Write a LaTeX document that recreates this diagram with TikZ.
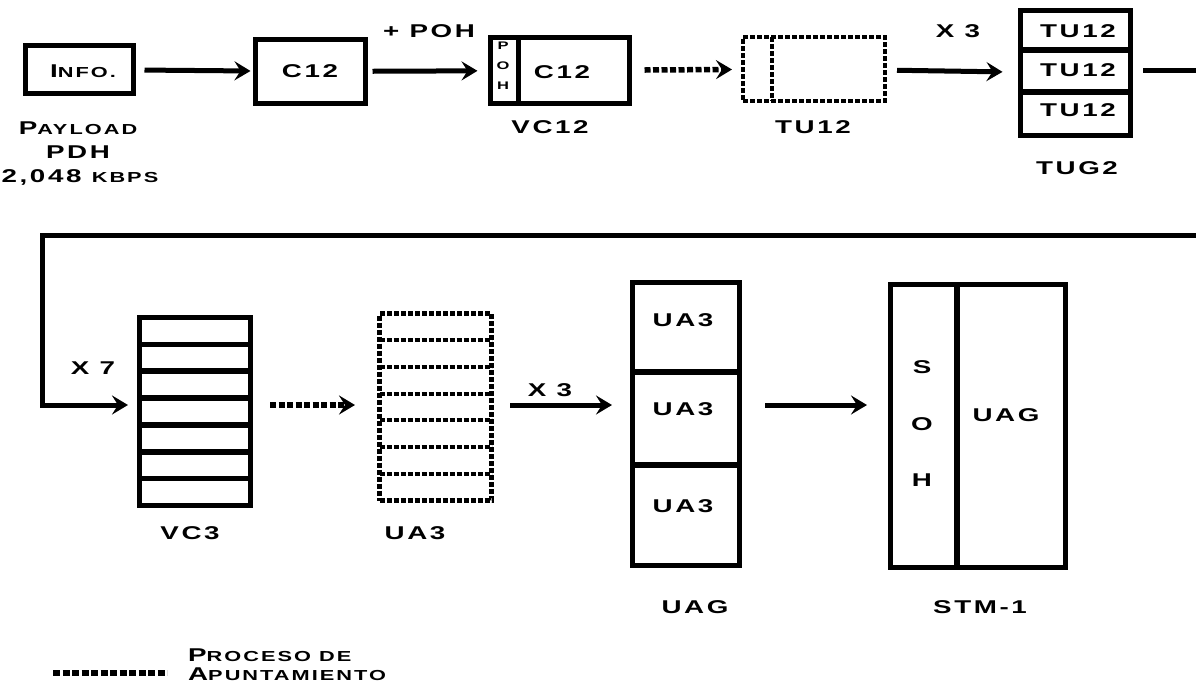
\documentclass[tikz,border=0pt]{standalone}
\usepackage{fontspec}
\setmainfont{Liberation Sans}[FakeStretch=1.5,LetterSpace=14]
\usetikzlibrary{arrows.meta,calc}
\newcommand\capsz{\fontsize{18.5}{21}\selectfont\bfseries}
\newcommand\smc[1]{{\fontsize{14.5}{16}\selectfont #1}}
\newcommand\tinysz{\fontsize{11}{12}\selectfont\bfseries}
\tikzset{
  box/.style={draw, line width=5.5pt, inner sep=0pt, outer sep=0pt},
  dbox/.style={draw, line width=4.5pt, dash pattern=on 5pt off 2pt, inner sep=0pt, outer sep=0pt},
  sep/.style={line width=5.5pt},
  dsep/.style={line width=4pt, dash pattern=on 5pt off 2pt},
  lbl/.style={inner sep=0pt, font=\capsz},
  arr/.style={line width=5pt, -{Stealth[length=16pt,width=19pt,inset=6pt]}},
  darr/.style={line width=5.5pt, dash pattern=on 6pt off 2.5pt, -{Stealth[length=16pt,width=19pt,inset=6pt]}},
  plain/.style={line width=5pt},
}
\begin{document}
\begin{tikzpicture}[x=1pt,y=-1pt]
\useasboundingbox (0,0) rectangle (1196,694);
\fill[white] (0,0) rectangle (1196,694);

% ---- top row boxes
\node[box, minimum width=108pt, minimum height=48pt] (info) at (79.5,69.5) {};
\node[lbl] (infot) at (83,71) {I\smc{NFO.}};
\node[lbl] (pl1) at (78,128) {P\smc{AYLOAD}};
\node[lbl] (pl2) at (78,152) {PDH};
\node[lbl] (pl3) at (80,177) {2,048 \smc{KBPS}};

\node[box, minimum width=110pt, minimum height=64pt] (c12) at (310.5,71.5) {};
\node[lbl] (c12t) at (310,71) {C12};

\node[box, minimum width=139pt, minimum height=66pt] (vc12) at (560,70.5) {};
\draw[sep] ([xshift=28pt]vc12.north west) -- ([xshift=28pt]vc12.south west);
\node[inner sep=0pt, font=\tinysz] (p1) at (503,46) {P};
\node[inner sep=0pt, font=\tinysz] (p2) at (503,66) {O};
\node[inner sep=0pt, font=\tinysz] (p3) at (503,86) {H};
\node[lbl] (vc12c) at (562,72) {C12};
\node[lbl] (vc12l) at (550,127) {VC12};

\node[dbox, minimum width=142pt, minimum height=64pt] (tu12) at (814,69) {};
\draw[dsep] ([xshift=29pt]tu12.north west) -- ([xshift=29pt]tu12.south west);
\node[lbl] (tu12l) at (813,127) {TU12};

\node[box, minimum width=110pt, minimum height=125pt] (tug2) at (1075.5,73) {};
\draw[sep] ($(tug2.north west)!0.316!(tug2.south west)$) -- ($(tug2.north east)!0.316!(tug2.south east)$);
\draw[sep] ($(tug2.north west)!0.652!(tug2.south west)$) -- ($(tug2.north east)!0.652!(tug2.south east)$);
\node[lbl] (tg1) at (1078,31) {TU12};
\node[lbl] (tg2) at (1078,70) {TU12};
\node[lbl] (tg3) at (1078,110) {TU12};
\node[lbl] (tug2l) at (1077,168) {TUG2};

% top connectors
\draw[arr, shorten <=11pt, shorten >=5pt] (info) -- (c12);
\draw[arr, shorten <=7pt, shorten >=13pt] (c12) -- (vc12);
\node[lbl] (poh) at (429,31) {+ POH};
\draw[darr, shorten <=15pt, shorten >=11pt] (vc12) -- (tu12);
\draw[arr, shorten <=12pt, shorten >=18pt] (tu12) -- (tug2);
\node[lbl] (x3a) at (958,31) {X 3};
\coordinate (r1s) at (1143,70);
\coordinate (r1) at (1196,70);
\draw[plain] (r1s) -- (r1);

% wrap connector
\coordinate (r2) at (1196,235);
\coordinate (l2) at (42,235);
\coordinate (vc3in) at (128,405);

% ---- bottom row
\node[box, minimum width=111pt, minimum height=188pt] (vc3) at (195,411.5) {};
\foreach \i in {1,...,6}
  \draw[sep] ($(vc3.north west)!\i/7!(vc3.south west)$) -- ($(vc3.north east)!\i/7!(vc3.south east)$);
\node[lbl] (vc3l) at (190,533) {VC3};
\node[lbl] (x7) at (93,368) {X 7};
\draw[arr] (r2) -- (l2) |- (vc3in);

\node[dbox, minimum width=112pt, minimum height=187pt] (ua3) at (435.5,407) {};
\foreach \i in {1,...,6}
  \draw[dsep] ($(ua3.north west)!\i/7!(ua3.south west)$) -- ($(ua3.north east)!\i/7!(ua3.south east)$);
\node[lbl] (ua3l) at (415,533) {UA3};
\coordinate (vc3o) at (270,405);
\coordinate (ua3i) at (355,405);
\draw[darr] (vc3o) -- (ua3i);

\node[box, minimum width=107pt, minimum height=283pt] (uag) at (686,424) {};
\draw[sep] ($(uag.north west)!0.316!(uag.south west)$) -- ($(uag.north east)!0.316!(uag.south east)$);
\draw[sep] ($(uag.north west)!0.645!(uag.south west)$) -- ($(uag.north east)!0.645!(uag.south east)$);
\node[lbl] (u1) at (683,320) {UA3};
\node[lbl] (u2) at (683,409) {UA3};
\node[lbl] (u3) at (683,506) {UA3};
\node[lbl] (uagl) at (695,607) {UAG};
\coordinate (ua3o) at (510,405);
\coordinate (uagi) at (612,405);
\draw[arr] (ua3o) -- (uagi);
\node[lbl] (x3b) at (550,390) {X 3};

\node[box, minimum width=175pt, minimum height=283pt] (stm) at (978,426) {};
\draw[sep] ([xshift=66.5pt]stm.north west) -- ([xshift=66.5pt]stm.south west);
\node[lbl] (s1) at (922,367) {S};
\node[lbl] (s2) at (922,424) {O};
\node[lbl] (s3) at (922,480) {H};
\node[lbl] (stmu) at (1006,415) {UAG};
\node[lbl] (stml) at (980,607) {STM-1};
\coordinate (uago) at (765,405);
\coordinate (stmi) at (867,405);
\draw[arr] (uago) -- (stmi);

% ---- legend
\coordinate (lg1) at (53,673);
\coordinate (lg2) at (167,673);
\draw[line width=6.5pt, dash pattern=on 7pt off 2.5pt] (lg1) -- (lg2);
\node[lbl, anchor=west] (lgt1) at (188,655) {P\smc{ROCESO DE}};
\node[lbl, anchor=west] (lgt2) at (188,674) {A\smc{PUNTAMIENTO}};
\end{tikzpicture}
\end{document}
